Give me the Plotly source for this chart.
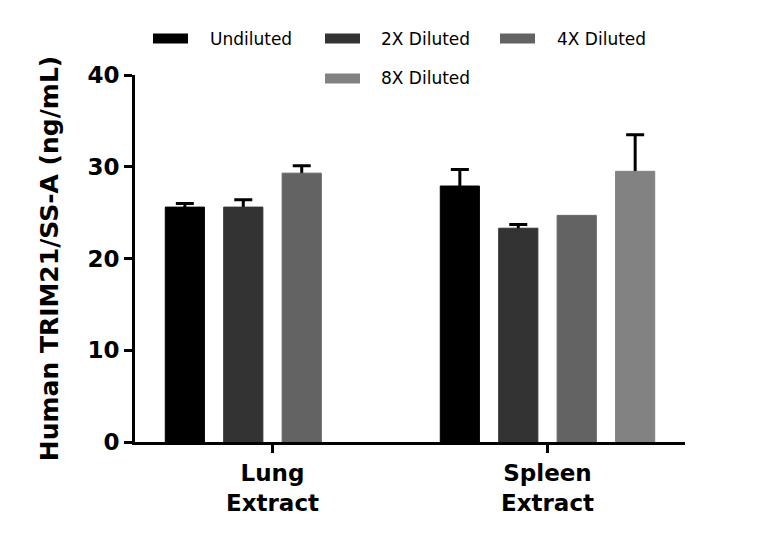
import plotly.graph_objects as go

categories = ["Lung<br>Extract", "Spleen<br>Extract"]
series_names = ["Undiluted", "2X Diluted", "4X Diluted", "8X Diluted"]
values = {
    "Undiluted": [25.6, 27.9],
    "2X Diluted": [25.6, 23.3],
    "4X Diluted": [29.3, 24.7],
    "8X Diluted": [None, 29.5],
}
errors = {
    "Undiluted": [0.4, 1.8],
    "2X Diluted": [0.8, 0.4],
    "4X Diluted": [0.8, None],
    "8X Diluted": [None, 4.0],
}
colors = {
    "Undiluted": "#000000",
    "2X Diluted": "#333333",
    "4X Diluted": "#636363",
    "8X Diluted": "#828282",
}
y_ticks = [0, 10, 20, 30, 40]

FONT = "DejaVu Sans"

fig = go.Figure()
# error bars first (symmetric); the lower half is then hidden behind the opaque bars
for name in series_names:
    err = [e if e is not None else "NaN" for e in errors[name]]
    fig.add_trace(go.Bar(
        x=[0, 1],
        y=values[name],
        name=name + " SEM",
        offsetgroup=name,
        marker=dict(color="rgba(0,0,0,0)", line=dict(width=0)),
        error_y=dict(type="data", array=err, symmetric=True,
                     color="#000000", thickness=3, width=9),
        showlegend=False, hoverinfo="skip",
    ))
for name in series_names:
    fig.add_trace(go.Bar(
        x=[0, 1],
        y=values[name],
        name=name,
        offsetgroup=name,
        marker=dict(color=colors[name], line=dict(color=colors[name], width=1)),
        showlegend=False,
    ))

L, R, T, B = 135, 685, 75, 442
W, H = R - L, B - T


def px(x):
    return (x - L) / W


def py(y):
    return (B - y) / H


legend_items = [
    ("Undiluted", 153, 188, 38.5, 208),
    ("2X Diluted", 325, 360, 38.5, 379),
    ("4X Diluted", 500, 535, 38.5, 555),
    ("8X Diluted", 325, 360, 78.5, 379),
]
shapes = []
annotations = []
for name, x0, x1, yc, tx in legend_items:
    shapes.append(dict(type="rect", xref="paper", yref="paper",
                       x0=px(x0), x1=px(x1), y0=py(yc + 5), y1=py(yc - 5),
                       fillcolor=colors[name], line=dict(width=0)))
    annotations.append(dict(xref="paper", yref="paper", x=px(tx), y=py(yc),
                            xanchor="left", yanchor="middle", showarrow=False,
                            text=name, font=dict(family=FONT, size=17, color="#000000")))

fig.update_layout(
    width=768, height=548,
    margin=dict(l=L, r=768 - R, t=T, b=548 - B),
    plot_bgcolor="white", paper_bgcolor="white",
    barmode="group", bargap=0.15, bargroupgap=0.33,
    shapes=shapes, annotations=annotations,
    font=dict(family=FONT, color="#000000"),
)
fig.update_xaxes(
    range=[-0.5, 1.5], tickvals=[0, 1],
    ticktext=["<b>" + c + "</b>" for c in categories],
    showline=True, linewidth=3, linecolor="#000000",
    ticks="outside", ticklen=8, tickwidth=3, tickcolor="#000000",
    showgrid=False, zeroline=False,
    tickfont=dict(family=FONT, size=23, color="#000000"),
)
fig.update_yaxes(
    range=[0, 40], tickvals=y_ticks,
    ticktext=["<b>%d</b>" % v for v in y_ticks],
    showline=True, linewidth=3, linecolor="#000000",
    ticks="outside", ticklen=8, tickwidth=3, tickcolor="#000000",
    showgrid=False, zeroline=False,
    tickfont=dict(family=FONT, size=23, color="#000000"),
    title=dict(text="<b>Human TRIM21/SS-A (ng/mL)</b>", standoff=22,
               font=dict(family=FONT, size=25, color="#000000")),
)

fig.write_html("out.html")
